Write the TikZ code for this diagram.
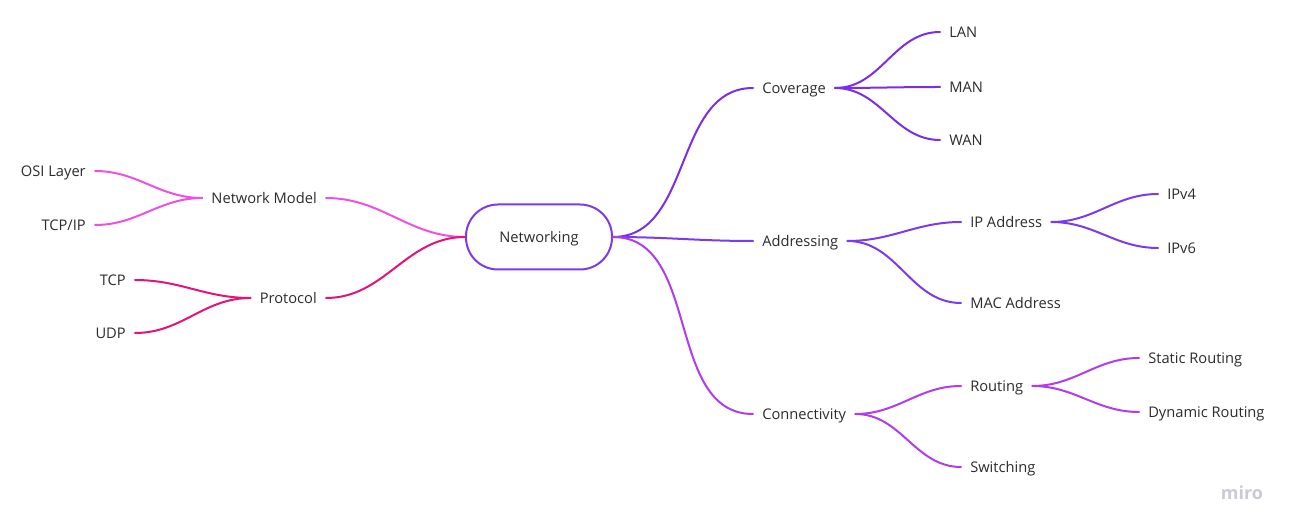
\documentclass[tikz,border=0pt]{standalone}
\usepackage{fontspec}
\setmainfont{Open Sans}
\definecolor{txt}{HTML}{2B2B2B}
\definecolor{cCov}{HTML}{7A2EE8}
\definecolor{cAddr}{HTML}{7B3BEB}
\definecolor{cConn}{HTML}{B03CEF}
\definecolor{cNM}{HTML}{F050E0}
\definecolor{cPro}{HTML}{E5127A}
\definecolor{cRoot}{HTML}{7B3BE8}
\definecolor{cMiro}{HTML}{CACAD4}
\tikzset{
  lbl/.style={inner xsep=6.75pt, inner ysep=0pt, text height=8.6pt, text depth=0pt,
    font=\fontsize{11pt}{13pt}\selectfont, text=txt},
  rt/.style={lbl, anchor=west},
  lt/.style={lbl, anchor=east},
  root/.style={draw=cRoot, line width=1.5pt, rounded corners=24pt,
    minimum width=109.5pt, minimum height=48.75pt, inner sep=0pt,
    text height=8.6pt, text depth=0pt,
    font=\fontsize{11pt}{13pt}\selectfont, text=txt},
  link/.style={line width=1.5pt, line cap=round},
}
\begin{document}
\begin{tikzpicture}[x=0.75pt, y=-0.75pt]
\useasboundingbox (0,0) rectangle (1292,530);
% root
\node[root] (net) at (539,237) {Networking};
% left
\node[lt] (nm) at (326,198) {Network Model};
\node[lt] (osi) at (95,171) {OSI Layer};
\node[lt] (tcpip) at (95,225) {TCP/IP};
\node[lt] (pro) at (326,298) {Protocol};
\node[lt] (tcp) at (135,280) {TCP};
\node[lt] (udp) at (135,333) {UDP};
% right
\node[rt] (cov) at (753,88) {Coverage};
\node[rt] (lan) at (940,32) {LAN};
\node[rt] (man) at (940,87) {MAN};
\node[rt] (wan) at (940,140) {WAN};
\node[rt] (addr) at (753,241) {Addressing};
\node[rt] (ip) at (961,222) {IP Address};
\node[rt] (mac) at (961,303) {MAC Address};
\node[rt] (v4) at (1158,194) {IPv4};
\node[rt] (v6) at (1158,248) {IPv6};
\node[rt] (conn) at (753,414) {Connectivity};
\node[rt] (rout) at (961,386) {Routing};
\node[rt] (sw) at (961,467) {Switching};
\node[rt] (stat) at (1139,358) {Static Routing};
\node[rt] (dyn) at (1139,412) {Dynamic Routing};
% watermark
\node[font=\fontsize{13.5pt}{15pt}\selectfont\bfseries, text=cMiro, anchor=center] (miro) at (1242,493) {miro};
% connectors left
\draw[link, cNM] (net.west) to[out=180,in=0] (nm.east);
\draw[link, cNM] (nm.west) to[out=180,in=0] (osi.east);
\draw[link, cNM] (nm.west) to[out=180,in=0] (tcpip.east);
\draw[link, cPro] (net.west) to[out=180,in=0] (pro.east);
\draw[link, cPro] (pro.west) to[out=180,in=0] (tcp.east);
\draw[link, cPro] (pro.west) to[out=180,in=0] (udp.east);
% connectors right
\draw[link, cCov] (net.east) to[out=0,in=180] (cov.west);
\draw[link, cCov] (cov.east) to[out=0,in=180] (lan.west);
\draw[link, cCov] (cov.east) to[out=0,in=180] (man.west);
\draw[link, cCov] (cov.east) to[out=0,in=180] (wan.west);
\draw[link, cAddr] (net.east) to[out=0,in=180] (addr.west);
\draw[link, cAddr] (addr.east) to[out=0,in=180] (ip.west);
\draw[link, cAddr] (addr.east) to[out=0,in=180] (mac.west);
\draw[link, cAddr] (ip.east) to[out=0,in=180] (v4.west);
\draw[link, cAddr] (ip.east) to[out=0,in=180] (v6.west);
\draw[link, cConn] (net.east) to[out=0,in=180] (conn.west);
\draw[link, cConn] (conn.east) to[out=0,in=180] (rout.west);
\draw[link, cConn] (conn.east) to[out=0,in=180] (sw.west);
\draw[link, cConn] (rout.east) to[out=0,in=180] (stat.west);
\draw[link, cConn] (rout.east) to[out=0,in=180] (dyn.west);
\end{tikzpicture}
\end{document}
